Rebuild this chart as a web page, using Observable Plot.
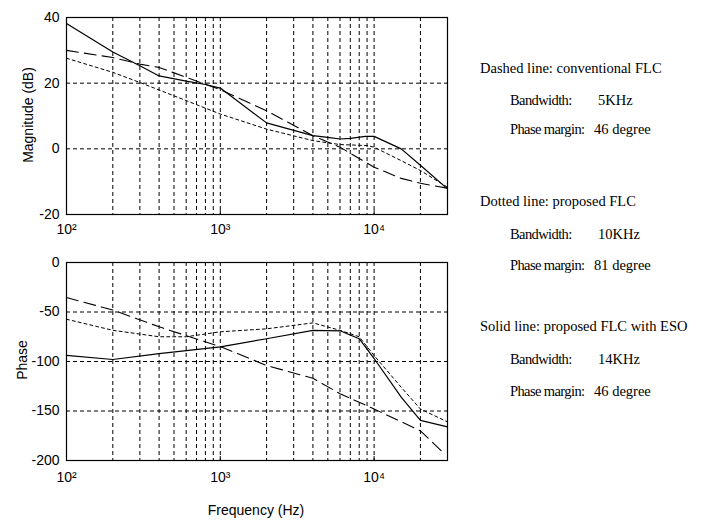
<!DOCTYPE html>
<html>
<head>
<meta charset="utf-8">
<script src="https://cdn.jsdelivr.net/npm/d3@7"></script>
<script src="https://cdn.jsdelivr.net/npm/@observablehq/plot@0.6"></script>
<style>
  html, body { margin: 0; padding: 0; background: #fff; }
  #wrap { position: relative; width: 703px; height: 522px; overflow: hidden; background: #fff; }
  .panel { position: absolute; left: 0; }
  .lab { position: absolute; font-family: "Liberation Sans", sans-serif; font-size: 14px; color: #000; white-space: nowrap; }
  .note { position: absolute; font-family: "Liberation Serif", "Times New Roman", serif; font-size: 14.5px; color: #000; white-space: nowrap; }
  .note.sub { letter-spacing: -0.6px; }
</style>
</head>
<body>
<div id="wrap"></div>
<script>
// ---- data ----
const magSolidF  = [100, 200, 300, 400, 600, 800, 1000, 2000, 4000, 5000, 6000, 7000, 8800, 10000, 15000, 20000, 30000];
const magSolid   = [38.2, 29.5, 25.3, 22.2, 20.6, 19.6, 18.5, 7.9, 4.0, 3.5, 3.0, 3.2, 3.8, 3.8, 0, -5, -12.2];
const magDashedF = [100, 200, 300, 400, 600, 1000, 2000, 4000, 6000, 10000, 15000, 20000, 30000];
const magDashed  = [30, 27.8, 25.8, 24.8, 21.8, 18, 11.6, 4, 0.5, -5.6, -9, -10.5, -12];
const magDottedF = [100, 200, 300, 600, 1000, 2000, 4000, 6000, 9000, 10000, 15000, 20000, 30000];
const magDotted  = [27.6, 23.3, 20.2, 14.7, 10.6, 6, 2.5, 1.3, 1, 0.5, -3.6, -6.6, -11.7];

const phDashedF = [100, 200, 400, 1000, 2000, 4000, 6000, 10000, 20000, 28500];
const phDashed  = [-35.4, -48, -65, -85, -104, -117, -132.5, -148, -170, -193];
const phSolidF  = [100, 200, 400, 1000, 2000, 4000, 6000, 8000, 10000, 15000, 20000, 30000];
const phSolid   = [-93.8, -98, -92, -85.3, -77, -68.5, -69, -77, -97, -136, -159.5, -166];
const phDottedF = [100, 200, 400, 600, 1000, 2000, 4000, 6000, 8000, 10000, 15000, 20000, 30000];
const phDotted  = [-57.3, -68.5, -75, -75, -70, -67, -61, -68.5, -75, -94, -126, -148, -161];

const xTicks = [100, 1000, 10000];
const xTickLabels = ["10²", "10³", "10⁴"];
const xGrid = [200, 300, 400, 500, 600, 700, 800, 900, 1000, 2000, 3000, 4000, 5000, 6000, 7000, 8000, 9000, 10000, 20000];
const magTicks = [-20, 0, 20, 40];
const magGrid = [0, 20];
const phTicks = [-200, -150, -100, -50, 0];
const phGrid = [-150, -100, -50];

const magLabel = "Magnitude (dB)";
const phLabel = "Phase";
const freqLabel = "Frequency (Hz)";

const notes = [
  {text: "Dashed line: conventional FLC", indent: 0, y: 68},
  {text: "Bandwidth:", indent: 1, y: 100, value: "5KHz"},
  {text: "Phase margin:", indent: 1, y: 129, value: "46 degree"},
  {text: "Dotted line: proposed FLC", indent: 0, y: 201},
  {text: "Bandwidth:", indent: 1, y: 234, value: "10KHz"},
  {text: "Phase margin:", indent: 1, y: 265, value: "81 degree"},
  {text: "Solid line: proposed FLC with ESO", indent: 0, y: 326},
  {text: "Bandwidth:", indent: 1, y: 359, value: "14KHz"},
  {text: "Phase margin:", indent: 1, y: 391, value: "46 degree"}
];

const toPts = (fs, vs) => fs.map((f, i) => ({f, v: vs[i]}));
const fontFam = '"Liberation Sans", sans-serif';

function panel({yDomain, yTicks, yGrid, series, height, marginTop, marginBottom, xPad}) {
  const tickLen = (yDomain[1] - yDomain[0]) * 0.02;
  return Plot.plot({
    width: 470,
    height,
    marginLeft: 66,
    marginRight: 23,
    marginTop,
    marginBottom,
    style: {fontFamily: fontFam, fontSize: "14px", color: "#000", background: "#fff", overflow: "visible"},
    x: {type: "log", domain: [100, 30000], ticks: xTicks, tickFormat: d => xTickLabels[xTicks.indexOf(d)], tickSize: 0, tickPadding: xPad, label: null},
    y: {domain: yDomain, ticks: yTicks, tickSize: 0, tickPadding: 7, label: null, tickFormat: d => String(d)},
    marks: [
      Plot.ruleX(xGrid, {stroke: "#000", strokeWidth: 1, strokeDasharray: "4,3"}),
      Plot.ruleY(yGrid, {stroke: "#000", strokeWidth: 1, strokeDasharray: "4,3"}),
      Plot.ruleX(xTicks, {x: d => d, y1: yDomain[0], y2: yDomain[0] + tickLen, stroke: "#000", strokeWidth: 1}),
      ...series.map(s => Plot.line(toPts(s.f, s.v), {x: "f", y: "v", stroke: "#000", strokeWidth: s.w, strokeDasharray: s.dash})),
      Plot.frame({stroke: "#000", strokeWidth: 1.2})
    ]
  });
}

const wrap = document.getElementById("wrap");

const topPlot = panel({
  yDomain: [-20, 40], yTicks: magTicks, yGrid: magGrid, height: 240, marginTop: 17, marginBottom: 26, xPad: 10,
  series: [
    {f: magDashedF, v: magDashed, dash: "12,6", w: 1.1},
    {f: magDottedF, v: magDotted, dash: "3,3", w: 1},
    {f: magSolidF, v: magSolid, dash: null, w: 1.2}
  ]
});
topPlot.classList.add("panel");
topPlot.style.top = "0px";
wrap.appendChild(topPlot);

const botPlot = panel({
  yDomain: [-200, 0], yTicks: phTicks, yGrid: phGrid, height: 282, marginTop: 22, marginBottom: 62, xPad: 12,
  series: [
    {f: phDashedF, v: phDashed, dash: "12,6", w: 1.1},
    {f: phDottedF, v: phDotted, dash: "3,3", w: 1},
    {f: phSolidF, v: phSolid, dash: null, w: 1.2}
  ]
});
botPlot.classList.add("panel");
botPlot.style.top = "240px";
wrap.appendChild(botPlot);

function addLab(text, x, y, rotate) {
  const d = document.createElement("div");
  d.className = "lab";
  d.textContent = text;
  d.style.left = x + "px";
  d.style.top = y + "px";
  d.style.transform = "translate(-50%, -50%)" + (rotate ? " rotate(-90deg)" : "");
  wrap.appendChild(d);
}
addLab(magLabel, 28, 115, true);
addLab(phLabel, 22, 360, true);
addLab(freqLabel, 256, 510, false);

for (const n of notes) {
  const d = document.createElement("div");
  d.className = n.indent ? "note sub" : "note";
  d.textContent = n.text;
  d.style.left = (n.indent ? 510 : 480) + "px";
  d.style.top = n.y + "px";
  d.style.transform = "translateY(-50%)";
  wrap.appendChild(d);
  if (n.value) {
    const v = document.createElement("div");
    v.className = "note";
    v.textContent = n.value;
    v.style.left = (n.value.includes("degree") ? 594 : 598) + "px";
    v.style.top = n.y + "px";
    v.style.transform = "translateY(-50%)";
    wrap.appendChild(v);
  }
}
</script>
</body>
</html>
